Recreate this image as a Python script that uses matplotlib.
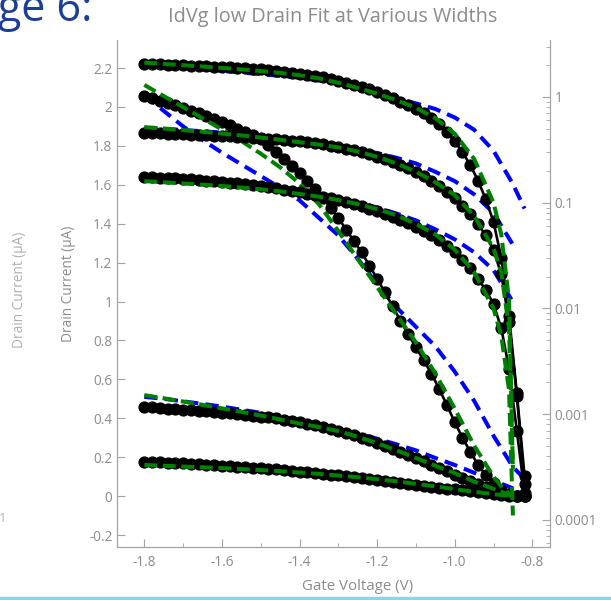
import matplotlib
matplotlib.use("Agg")
import matplotlib.pyplot as plt
import numpy as np
from matplotlib.ticker import FixedLocator, MultipleLocator, LogLocator, NullFormatter

plt.rcParams['font.family'] = ['Open Sans', 'DejaVu Sans']

# gate voltage of the measured points (V)
v_gate = [-1.80, -1.78, -1.76, -1.74, -1.72, -1.70, -1.68, -1.66, -1.64, -1.62,
          -1.60, -1.58, -1.56, -1.54, -1.52, -1.50, -1.48, -1.46, -1.44, -1.42,
          -1.40, -1.38, -1.36, -1.34, -1.32, -1.30, -1.28, -1.26, -1.24, -1.22,
          -1.20, -1.18, -1.16, -1.14, -1.12, -1.10, -1.08, -1.06, -1.04, -1.02,
          -1.00, -0.98, -0.96, -0.94, -0.92, -0.90, -0.88, -0.86, -0.84, -0.82]

# measured drain current (uA), three widths
id_wide = [2.055, 2.044, 2.033, 2.021, 2.008, 1.995, 1.981, 1.967, 1.952, 1.937,
           1.921, 1.905, 1.889, 1.872, 1.855, 1.834, 1.806, 1.770, 1.735, 1.699,
           1.662, 1.620, 1.578, 1.532, 1.482, 1.430, 1.370, 1.312, 1.252, 1.185,
           1.118, 1.047, 0.975, 0.902, 0.832, 0.765, 0.698, 0.630, 0.550, 0.468,
           0.380, 0.300, 0.228, 0.162, 0.108, 0.066, 0.030, 0.0085, 0.0016, 0.00026]
id_mid = [0.459, 0.456, 0.453, 0.450, 0.447, 0.444, 0.441, 0.438, 0.435, 0.432,
          0.429, 0.425, 0.421, 0.417, 0.413, 0.409, 0.404, 0.399, 0.393, 0.387,
          0.380, 0.373, 0.365, 0.356, 0.346, 0.336, 0.325, 0.313, 0.300, 0.287,
          0.273, 0.258, 0.243, 0.227, 0.211, 0.195, 0.178, 0.161, 0.144, 0.127,
          0.110, 0.094, 0.078, 0.063, 0.049, 0.036, 0.021, 0.0075, 0.0015, 0.00022]
id_narrow = [0.176, 0.175, 0.173, 0.172, 0.170, 0.168, 0.166, 0.164, 0.162, 0.160,
             0.157, 0.155, 0.152, 0.149, 0.146, 0.143, 0.140, 0.137, 0.133, 0.130,
             0.126, 0.122, 0.118, 0.114, 0.110, 0.106, 0.102, 0.097, 0.093, 0.088,
             0.084, 0.079, 0.074, 0.069, 0.064, 0.059, 0.054, 0.049, 0.044, 0.039,
             0.034, 0.029, 0.024, 0.019, 0.015, 0.011, 0.0065, 0.0027, 0.0007, 0.00018]

# green fit
v_green = [-1.80, -1.75, -1.70, -1.65, -1.60, -1.55, -1.50, -1.45, -1.40, -1.35, -1.30,
           -1.25, -1.20, -1.15, -1.10, -1.05, -1.00, -0.95, -0.90, -0.88, -0.86, -0.85]
green_wide = [2.113, 2.056, 1.999, 1.942, 1.884, 1.825, 1.760, 1.690, 1.607, 1.500, 1.362,
              1.218, 1.075, 0.932, 0.790, 0.630, 0.450, 0.260, 0.100, 0.050, 0.012, 0.0003]
green_mid = [0.519, 0.503, 0.486, 0.469, 0.451, 0.433, 0.414, 0.394, 0.373, 0.355, 0.334,
             0.305, 0.272, 0.235, 0.196, 0.156, 0.118, 0.075, 0.037, 0.022, 0.0065, 0.0003]
green_narrow = [0.160, 0.156, 0.152, 0.148, 0.144, 0.139, 0.134, 0.128, 0.121, 0.114, 0.106,
                0.097, 0.087, 0.076, 0.063, 0.050, 0.036, 0.022, 0.010, 0.0055, 0.0017, 0.00011]

# blue fit
v_blue = [-1.80, -1.75, -1.70, -1.65, -1.60, -1.55, -1.50, -1.45, -1.40, -1.35, -1.30,
          -1.25, -1.20, -1.15, -1.10, -1.05, -1.00, -0.95, -0.90, -0.85, -0.82]
blue_wide = [2.06, 1.98, 1.90, 1.83, 1.765, 1.705, 1.645, 1.585, 1.52, 1.43, 1.34,
             1.22, 1.09, 0.97, 0.87, 0.77, 0.64, 0.49, 0.31, 0.15, 0.088]
blue_mid = [0.51, 0.50, 0.487, 0.474, 0.46, 0.444, 0.428, 0.41, 0.39, 0.37, 0.347,
            0.322, 0.295, 0.266, 0.235, 0.196, 0.16, 0.12, 0.08, 0.04, np.nan]
blue_narrow = [0.178, 0.174, 0.169, 0.164, 0.158, 0.152, 0.145, 0.138, 0.13, 0.121, 0.111,
               0.101, 0.09, 0.079, 0.068, 0.056, 0.045, 0.034, 0.023, 0.0115, np.nan]

lin_ticks = [-0.2, 0, 0.2, 0.4, 0.6, 0.8, 1, 1.2, 1.4, 1.6, 1.8, 2, 2.2]
log_ticks = [0.0001, 0.001, 0.01, 0.1, 1]
log_labels = ["0.0001", "0.001", "0.01", "0.1", "1"]
x_ticks = [-1.8, -1.6, -1.4, -1.2, -1.0, -0.8]

GRAY = "#a3a3a3"
TXT = "#8c8c8c"

W, H = 611, 600
fig = plt.figure(figsize=(W / 100, H / 100), dpi=100)
ax = fig.add_axes([117.3 / W, 1 - 546.7 / H, (549.5 - 117.3) / W, (546.7 - 40) / H])
ax2 = ax.twinx()

data = [id_wide, id_mid, id_narrow]
greens = [green_wide, green_mid, green_narrow]
blues = [blue_wide, blue_mid, blue_narrow]

# same curves on the linear (left) and log (right) axis
for a in (ax, ax2):
    for d, g, b in zip(data, greens, blues):
        a.plot(v_blue, b, color="#0000ff", lw=2.9, dashes=(3.3, 1.8), zorder=1)
        a.plot(v_gate, d, color="black", lw=1.9, marker="o", ms=7.8, zorder=2)
        a.plot(v_green, g, color="#008000", lw=2.9, dashes=(3.2, 1.4), zorder=3)

ax.set_xlim(-1.8696, -0.7557)
ax.set_ylim(-0.26, 2.344)
ax2.set_yscale("log")
ax2.set_ylim(10 ** -4.254, 10 ** 0.539)

ax.xaxis.set_major_locator(FixedLocator(x_ticks))
ax.set_xticklabels(["%.1f" % t for t in x_ticks])
ax.xaxis.set_minor_locator(MultipleLocator(0.1))
ax.yaxis.set_major_locator(FixedLocator(lin_ticks))
ax.set_yticklabels(["%g" % t for t in lin_ticks])
ax2.yaxis.set_major_locator(FixedLocator(log_ticks))
ax2.set_yticklabels(log_labels)
ax2.yaxis.set_minor_locator(LogLocator(base=10, subs=np.arange(2, 10)))
ax2.yaxis.set_minor_formatter(NullFormatter())

for a in (ax, ax2):
    for s in a.spines.values():
        s.set_color(GRAY)
    a.spines["top"].set_visible(False)
    a.tick_params(which="both", direction="in", color=GRAY, labelcolor=TXT, labelsize=9.8)
    a.tick_params(which="major", length=6)
    a.tick_params(which="minor", length=3)
ax.tick_params(axis="y", which="minor", left=False)
ax.tick_params(axis="x", pad=6)

fig.text(333 / W, 1 - 17 / H, "IdVg low Drain Fit at Various Widths", ha="center", va="center",
         color=TXT, fontsize=14.3)
fig.text(358 / W, 1 - 587 / H, "Gate Voltage (V)", ha="center", va="center", color=TXT, fontsize=10.8)
fig.text(68 / W, 1 - 284 / H, "Drain Current (µA)", ha="center", va="center", rotation=90,
         color=TXT, fontsize=9.8)
fig.text(20 / W, 1 - 290 / H, "Drain Current (µA)", ha="center", va="center", rotation=90,
         color="#b0b0b0", fontsize=9.8)
fig.text(3 / W, 1 - 519 / H, "1", ha="center", va="center", color="#b0b0b0", fontsize=9.5)
fig.text(-0.004, 1 - 21 / H, "ge 6:", ha="left", va="baseline", color="#1c3f95", fontsize=31)
fig.add_artist(plt.Line2D([0, 1], [1 - 597.5 / H, 1 - 597.5 / H], color="#8fd3e8", lw=2.5))

fig.savefig("out.png", dpi=100)
